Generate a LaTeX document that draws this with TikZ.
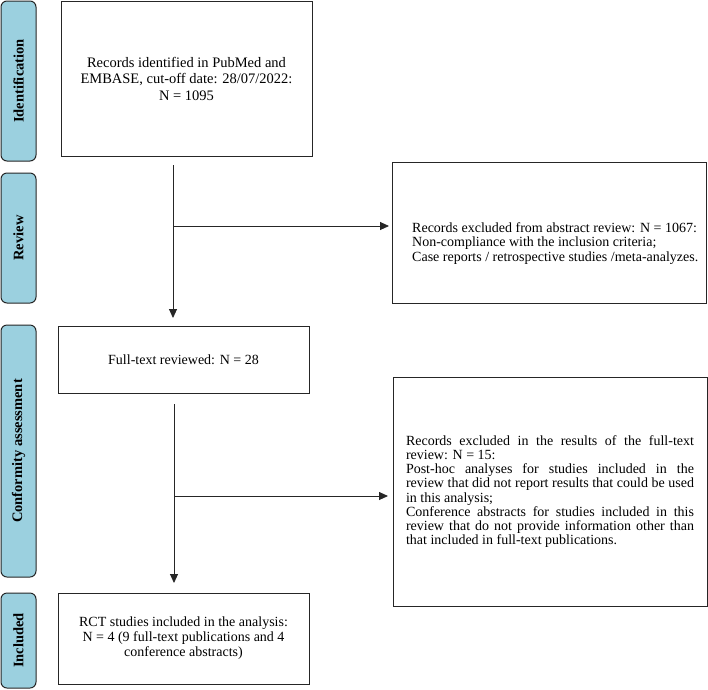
\documentclass[tikz,border=0pt]{standalone}
\usepackage{fontspec}
\setmainfont{Liberation Serif}
\usetikzlibrary{arrows.meta,calc}
\definecolor{labc}{HTML}{9BD0DF}
\begin{document}
\begin{tikzpicture}[x=1pt,y=-1pt,
  box/.style={draw=black!85,line width=0.9pt,inner sep=0pt,outer sep=0pt,anchor=north west},
  lab/.style={draw=black!85,fill=labc,rounded corners=6pt,line width=1pt,rotate=90,inner sep=0pt,minimum height=35pt,font=\fontsize{14.5}{16}\selectfont\bfseries},
  arr/.style={-{Triangle[length=9pt,width=8pt]},line width=0.9pt,draw=black!85},
  txt/.style={font=\fontsize{14}{15}\selectfont}]
\useasboundingbox (0,0) rectangle (708,689);

% stage labels
\node[lab,minimum width=160pt] (l1) at (18.5,81) {Identification};
\node[lab,minimum width=130pt] (l2) at (18.5,238) {Review};
\node[lab,minimum width=252pt] (l3) at (18.5,451) {Conformity assessment};
\node[lab,minimum width=95pt] (l4) at (18.5,640.5) {Included};

% boxes
\node[box,minimum width=251pt,minimum height=155pt] (b1) at (61,1) {};
\node[align=center,font=\fontsize{14.5}{16.5}\selectfont] (t1) at (b1.center) {Records identified in PubMed and\\EMBASE, cut-off date: 28/07/2022:\\N = 1095};

\node[box,minimum width=314pt,minimum height=141pt] (e1) at (392,162) {};
\node[align=left,anchor=west,inner sep=0pt,font=\fontsize{14}{14.5}\selectfont] (te1) at ($(e1.west)+(20,11)$) {Records excluded from abstract review: N = 1067:\\Non-compliance with the inclusion criteria;\\Case reports / retrospective studies /meta-analyzes.};

\node[box,minimum width=251pt,minimum height=67pt] (b2) at (58,326) {};
\node[txt] (t2) at (b2.center) {Full-text reviewed: N = 28};

\node[box,minimum width=314pt,minimum height=229pt] (e2) at (393,377) {};
\node[inner sep=0pt,text width=288pt,align=justify,font=\fontsize{14}{14.1}\selectfont] (te2) at (e2.center) {Records excluded in the results of the full-text\linebreak review: N = 15:\par Post-hoc analyses for studies included in the\linebreak review that did not report results that could be used\linebreak in this analysis;\par Conference abstracts for studies included in this\linebreak review that do not provide information other than\linebreak that included in full-text publications.};

\node[box,minimum width=251pt,minimum height=91pt] (b3) at (58,593) {};
\node[txt,align=center] (t3) at (b3.center) {RCT studies included in the analysis:\\N = 4 (9 full-text publications and 4\\conference abstracts)};

% connectors
\coordinate (s1) at ($(b1.south west)+(112,9)$);
\coordinate (j1) at (s1 |- 0,226);
\draw[arr,shorten >=8pt] (s1) -- (s1 |- b2.north);
\draw[arr,shorten >=3pt] (j1) -- (j1 -| e1.west);

\coordinate (s2) at ($(b2.south west)+(116,11)$);
\coordinate (j2) at (s2 |- 0,496);
\draw[arr,shorten >=10pt] (s2) -- (s2 |- b3.north);
\draw[arr,shorten >=5pt] (j2) -- (j2 -| e2.west);
\end{tikzpicture}
\end{document}
